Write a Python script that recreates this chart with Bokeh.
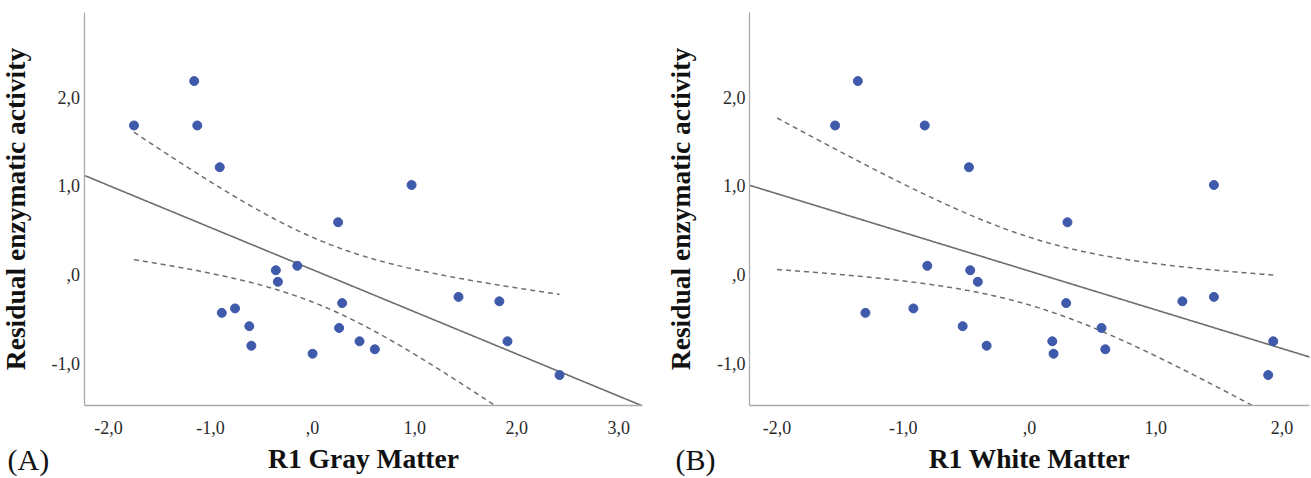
import numpy as np
from bokeh.plotting import figure
from bokeh.layouts import row
from bokeh.models import FixedTicker, Label
from bokeh.embed import file_html
from bokeh.resources import INLINE

# ---- data ----
residual = [2.18, 1.68, 1.68, 1.21, 1.01, 0.59, 0.10, 0.05, -0.08, -0.25, -0.30,
            -0.32, -0.43, -0.38, -0.58, -0.60, -0.80, -0.75, -0.75, -0.84, -0.89, -1.13]
gray_r1 = [-1.16, -1.75, -1.13, -0.91, 0.97, 0.25, -0.15, -0.36, -0.34, 1.43, 1.83,
           0.29, -0.89, -0.76, -0.62, 0.26, -0.60, 0.46, 1.91, 0.61, 0.00, 2.42]
white_r1 = [-1.36, -1.54, -0.83, -0.48, 1.46, 0.30, -0.81, -0.47, -0.41, 1.46, 1.21,
            0.29, -1.30, -0.92, -0.53, 0.57, -0.34, 0.18, 1.93, 0.60, 0.19, 1.89]
ci_span_gray = [min(gray_r1), max(gray_r1)]
ci_span_white = [-2.0, max(white_r1)]

x_extent_gray = (-2.24, 3.23)
x_extent_white = (-2.218, 2.217)
y_extent = (-1.473, 2.952)

x_ticks_gray = [-2, -1, 0, 1, 2, 3]
x_labels_gray = ["-2,0", "-1,0", ",0", "1,0", "2,0", "3,0"]
x_ticks_white = [-2, -1, 0, 1, 2]
x_labels_white = ["-2,0", "-1,0", ",0", "1,0", "2,0"]
y_ticks = [-1, 0, 1, 2]
y_labels = ["-1,0", ",0", "1,0", "2,0"]

T_CRIT = 2.086  # t(0.975, df=20)

# ---- style / layout ----
SERIF = "Liberation Serif"
DOT = "#3f5aab"
LINE = "#6e6e6e"
AXIS = "#ababab"
FIG_H = 478


def clip_below(xx, yy, lo):
    """keep the part of a curve that is at or above lo (exact crossing added)"""
    keep_x, keep_y = [], []
    for i in range(len(xx)):
        if yy[i] >= lo:
            if i > 0 and yy[i - 1] < lo:
                t = (lo - yy[i - 1]) / (yy[i] - yy[i - 1])
                keep_x.append(xx[i - 1] + t * (xx[i] - xx[i - 1]))
                keep_y.append(lo)
            keep_x.append(xx[i])
            keep_y.append(yy[i])
        elif i > 0 and yy[i - 1] >= lo:
            t = (lo - yy[i - 1]) / (yy[i] - yy[i - 1])
            keep_x.append(xx[i - 1] + t * (xx[i] - xx[i - 1]))
            keep_y.append(lo)
    return keep_x, keep_y


def panel(xs, ys, x_ext, span, xticks, xlabels, xtitle, tag, width, box, tag_px):
    # box = pixel positions of the axes inside this figure: left, right, top, bottom
    left, right, top, bottom = box
    pxx = (right - left) / (x_ext[1] - x_ext[0])
    pxy = (bottom - top) / (y_extent[1] - y_extent[0])
    x0 = x_ext[0] - left / pxx
    x_range = (x0, x0 + width / pxx)
    y1 = y_extent[1] + top / pxy
    y_range = (y1 - FIG_H / pxy, y1)

    xs = np.asarray(xs, float)
    ys = np.asarray(ys, float)
    n = len(xs)
    b, a = np.polyfit(xs, ys, 1)
    xbar = xs.mean()
    sxx = ((xs - xbar) ** 2).sum()
    s = np.sqrt(((ys - (a + b * xs)) ** 2).sum() / (n - 2))
    xx = np.linspace(span[0], span[1], 400)
    yy = a + b * xx
    half = T_CRIT * s * np.sqrt(1.0 / n + (xx - xbar) ** 2 / sxx)

    p = figure(width=width, height=FIG_H, x_range=x_range, y_range=y_range,
               output_backend="svg", toolbar_location=None,
               min_border_left=0, min_border_right=0, min_border_top=0, min_border_bottom=0)
    p.outline_line_color = None
    p.grid.grid_line_color = None
    p.background_fill_color = "white"
    p.border_fill_color = "white"

    # fitted line across the axis box
    lx = np.linspace(x_ext[0], x_ext[1], 400)
    fx, fy = clip_below(lx, a + b * lx, y_extent[0])
    p.line(fx, fy, line_color=LINE, line_width=1.6)
    ux, uy = clip_below(xx, yy + half, y_extent[0])
    p.line(ux, uy, line_color=LINE, line_width=1.5, line_dash="5 4")
    dx, dy = clip_below(xx, yy - half, y_extent[0])
    p.line(dx, dy, line_color=LINE, line_width=1.5, line_dash="5 4")
    p.scatter(xs, ys, size=9, fill_color=DOT, line_color=DOT)

    xa, ya = p.xaxis[0], p.yaxis[0]
    xa.fixed_location = y_extent[0]
    xa.bounds = x_ext
    ya.fixed_location = x_ext[0]
    ya.bounds = y_extent
    for ax in (xa, ya):
        ax.axis_line_color = AXIS
        ax.axis_line_width = 1.3
        ax.major_tick_line_color = None
        ax.minor_tick_line_color = None
        ax.major_tick_out = 0
        ax.major_tick_in = 0
        ax.major_label_text_font = SERIF
        ax.major_label_text_font_size = "18px"
        ax.major_label_text_color = "#2a2a2a"
        ax.axis_label_text_font = SERIF
        ax.axis_label_text_font_style = "bold"
        ax.axis_label_text_font_size = "27.5px"
        ax.axis_label_text_color = "#111111"

    xa.ticker = FixedTicker(ticks=xticks)
    xa.major_label_overrides = {float(t): l for t, l in zip(xticks, xlabels)}
    ya.ticker = FixedTicker(ticks=y_ticks)
    ya.major_label_overrides = {float(t): l for t, l in zip(y_ticks, y_labels)}
    xa.axis_label = xtitle
    ya.axis_label = "Residual enzymatic activity"
    xa.major_label_standoff = 15
    xa.axis_label_standoff = 6
    ya.major_label_standoff = 4
    ya.axis_label_standoff = 18

    p.add_layout(Label(x=x_range[0] + tag_px[0] / pxx, y=y_range[1] - tag_px[1] / pxy,
                       text=tag, text_font=SERIF, text_font_size="30px",
                       text_color="#111111", text_baseline="middle", text_align="left"))
    return p


pa = panel(gray_r1, residual, x_extent_gray, ci_span_gray, x_ticks_gray, x_labels_gray,
           "R1 Gray Matter", "(A)", 655, (83.5, 641.7, 12, 405), (7, 459))
pb = panel(white_r1, residual, x_extent_white, ci_span_white, x_ticks_white, x_labels_white,
           "R1 White Matter", "(B)", 655, (94, 654, 12, 405), (20, 459))

layout = row(pa, pb, spacing=0)
open("out.html", "w").write(file_html(layout, INLINE))
